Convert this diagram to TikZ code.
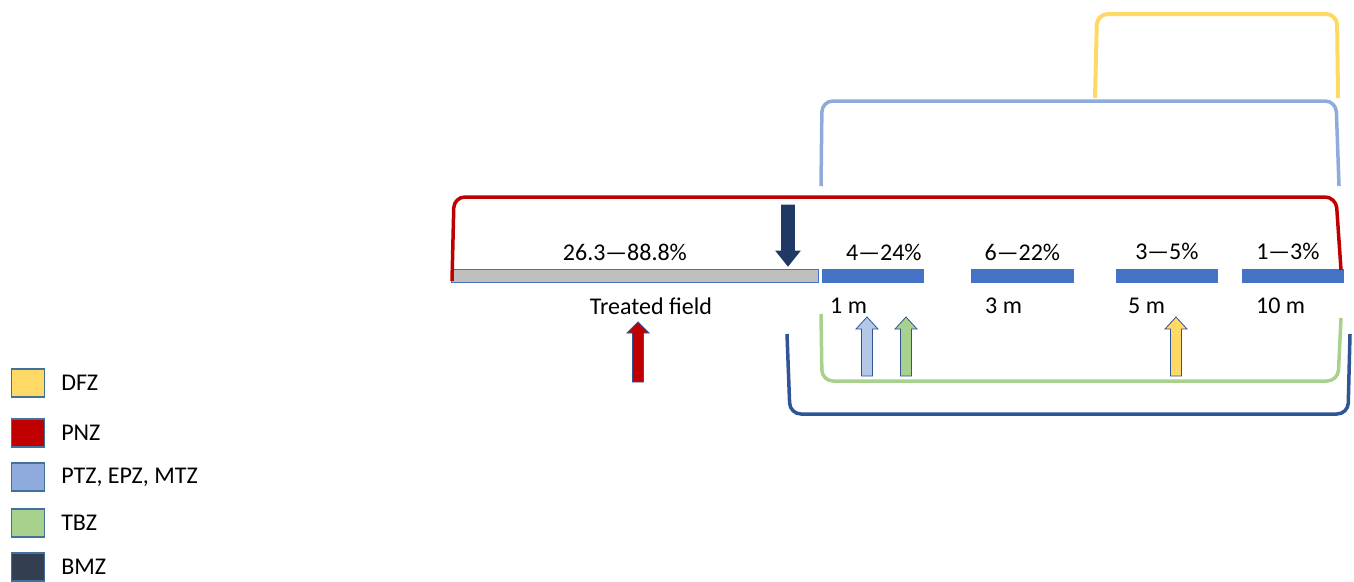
\documentclass[tikz,border=0pt]{standalone}
\usepackage{fontspec}
\setmainfont{Carlito}
\usepackage{xcolor}
\usepackage{tikz}
\usetikzlibrary{positioning}

\definecolor{dfzcol}{HTML}{FFD966}
\definecolor{pnzcol}{HTML}{C00000}
\definecolor{ptzcol}{HTML}{8FAADC}
\definecolor{ptzlight}{HTML}{B4C7E7}
\definecolor{tbzcol}{HTML}{A9D18E}
\definecolor{bmzcol}{HTML}{2F5597}
\definecolor{bmzkey}{HTML}{333F50}
\definecolor{barblue}{HTML}{4472C4}
\definecolor{fieldgray}{HTML}{BFBFBF}
\definecolor{navyarrow}{HTML}{1F3864}
\definecolor{keyline}{HTML}{41719C}

\tikzset{
	zone/.style={line width=3.5pt, rounded corners=11pt},
	bar/.style={fill=barblue, draw=barblue, line width=0.8pt, minimum height=13pt, inner sep=0pt, anchor=north west},
	key/.style={draw=keyline, line width=1.2pt, minimum width=33pt, minimum height=28pt, inner sep=0pt},
	lbl/.style={inner sep=1pt, text=black}
}

\newcommand{\zonearrow}[7]{%
	\filldraw[fill=#6, draw=#7, line width=0.8pt]
		(#1-#5,#2) -- (#1-#5,#3) -- (#1-#5-5.5,#3) -- (#1,#4)
		-- (#1+#5+5.5,#3) -- (#1+#5,#3) -- (#1+#5,#2) -- cycle;}

\begin{document}
\begin{tikzpicture}[x=1pt, y=-1pt]
\fontsize{24}{28}\selectfont
\useasboundingbox (0,0) rectangle (1354,581);

\node (field) 
	[bar, fill=fieldgray, minimum width=367pt] at (451,269) {};
\node (bar1) 
	[bar, minimum width=101pt] at (822,269) {};
\node (bar2) 
	[bar, minimum width=102pt] at (971,269) {};
\node (bar3) 
	[bar, minimum width=101pt] at (1116,269) {};
\node (bar4) 
	[bar, minimum width=101pt] at (1242,269) {};

\node (pfield) [lbl, above=7pt of field, xshift=-10pt] {26.3—88.8\%};
\node (pbar1) [lbl, above=7pt of bar1, xshift=11pt] {4—24\%};
\node (pbar2) [lbl, above=7pt of bar2] {6—22\%};
\node (pbar3) [lbl, above=8pt of bar3] {3—5\%};
\node (pbar4) [lbl, above=8pt of bar4, xshift=-5pt] {1—3\%};

\node (dbar1) [lbl, below right=14pt and 7pt of bar1.south west] {1 m};
\node (dbar2) [lbl, below right=14pt and 13pt of bar2.south west] {3 m};
\node (dbar3) [lbl, below right=14pt and 11pt of bar3.south west] {5 m};
\node (dbar4) [lbl, below right=14pt and 13pt of bar4.south west] {10 m};

\node (tfield) [lbl, below=14pt of field, xshift=16pt] {Treated field};

\draw[zone, dfzcol, line width=4pt] (1095,98) -- (1097,14) -- (1337,14) -- (1338,98);
\draw[zone, ptzcol] (821,186) -- (822,101) -- (1336,101) -- (1339,186);
\draw[zone, pnzcol] (452,281) -- (454,197) -- (1336,197) -- (1341,270);
\draw[zone, tbzcol] (821,314) -- (822,381) -- (1338,381) -- (1341,318);
\draw[zone, bmzcol] (787,334) -- (790,414) -- (1348,414) -- (1350,334);

\zonearrow{788}{205}{251}{266}{6.5}{navyarrow}{navyarrow}
\zonearrow{638}{382}{333}{322}{5.5}{pnzcol}{bmzcol}
\zonearrow{867}{376}{329}{317}{5.5}{ptzlight}{bmzcol}
\zonearrow{906}{376}{329}{317}{5.5}{tbzcol}{bmzcol}
\zonearrow{1176}{376}{329}{317}{5.5}{dfzcol}{bmzcol}

\node (kdfz) [key, fill=dfzcol] at (28,383) {};
\node (kpnz) [key, fill=pnzcol] at (28,433) {};
\node (kptz) [key, fill=ptzcol] at (28,477) {};
\node (ktbz) [key, fill=tbzcol] at (28,523) {};
\node (kbmz) [key, fill=bmzkey] at (28,567) {};

\node (tdfz) [lbl, right=15pt of kdfz] {DFZ};
\node (tpnz) [lbl, right=15pt of kpnz] {PNZ};
\node (tptz) [lbl, right=15pt of kptz] {PTZ, EPZ, MTZ};
\node (ttbz) [lbl, right=15pt of ktbz] {TBZ};
\node (tbmz) [lbl, right=15pt of kbmz] {BMZ};
\end{tikzpicture}
\end{document}
